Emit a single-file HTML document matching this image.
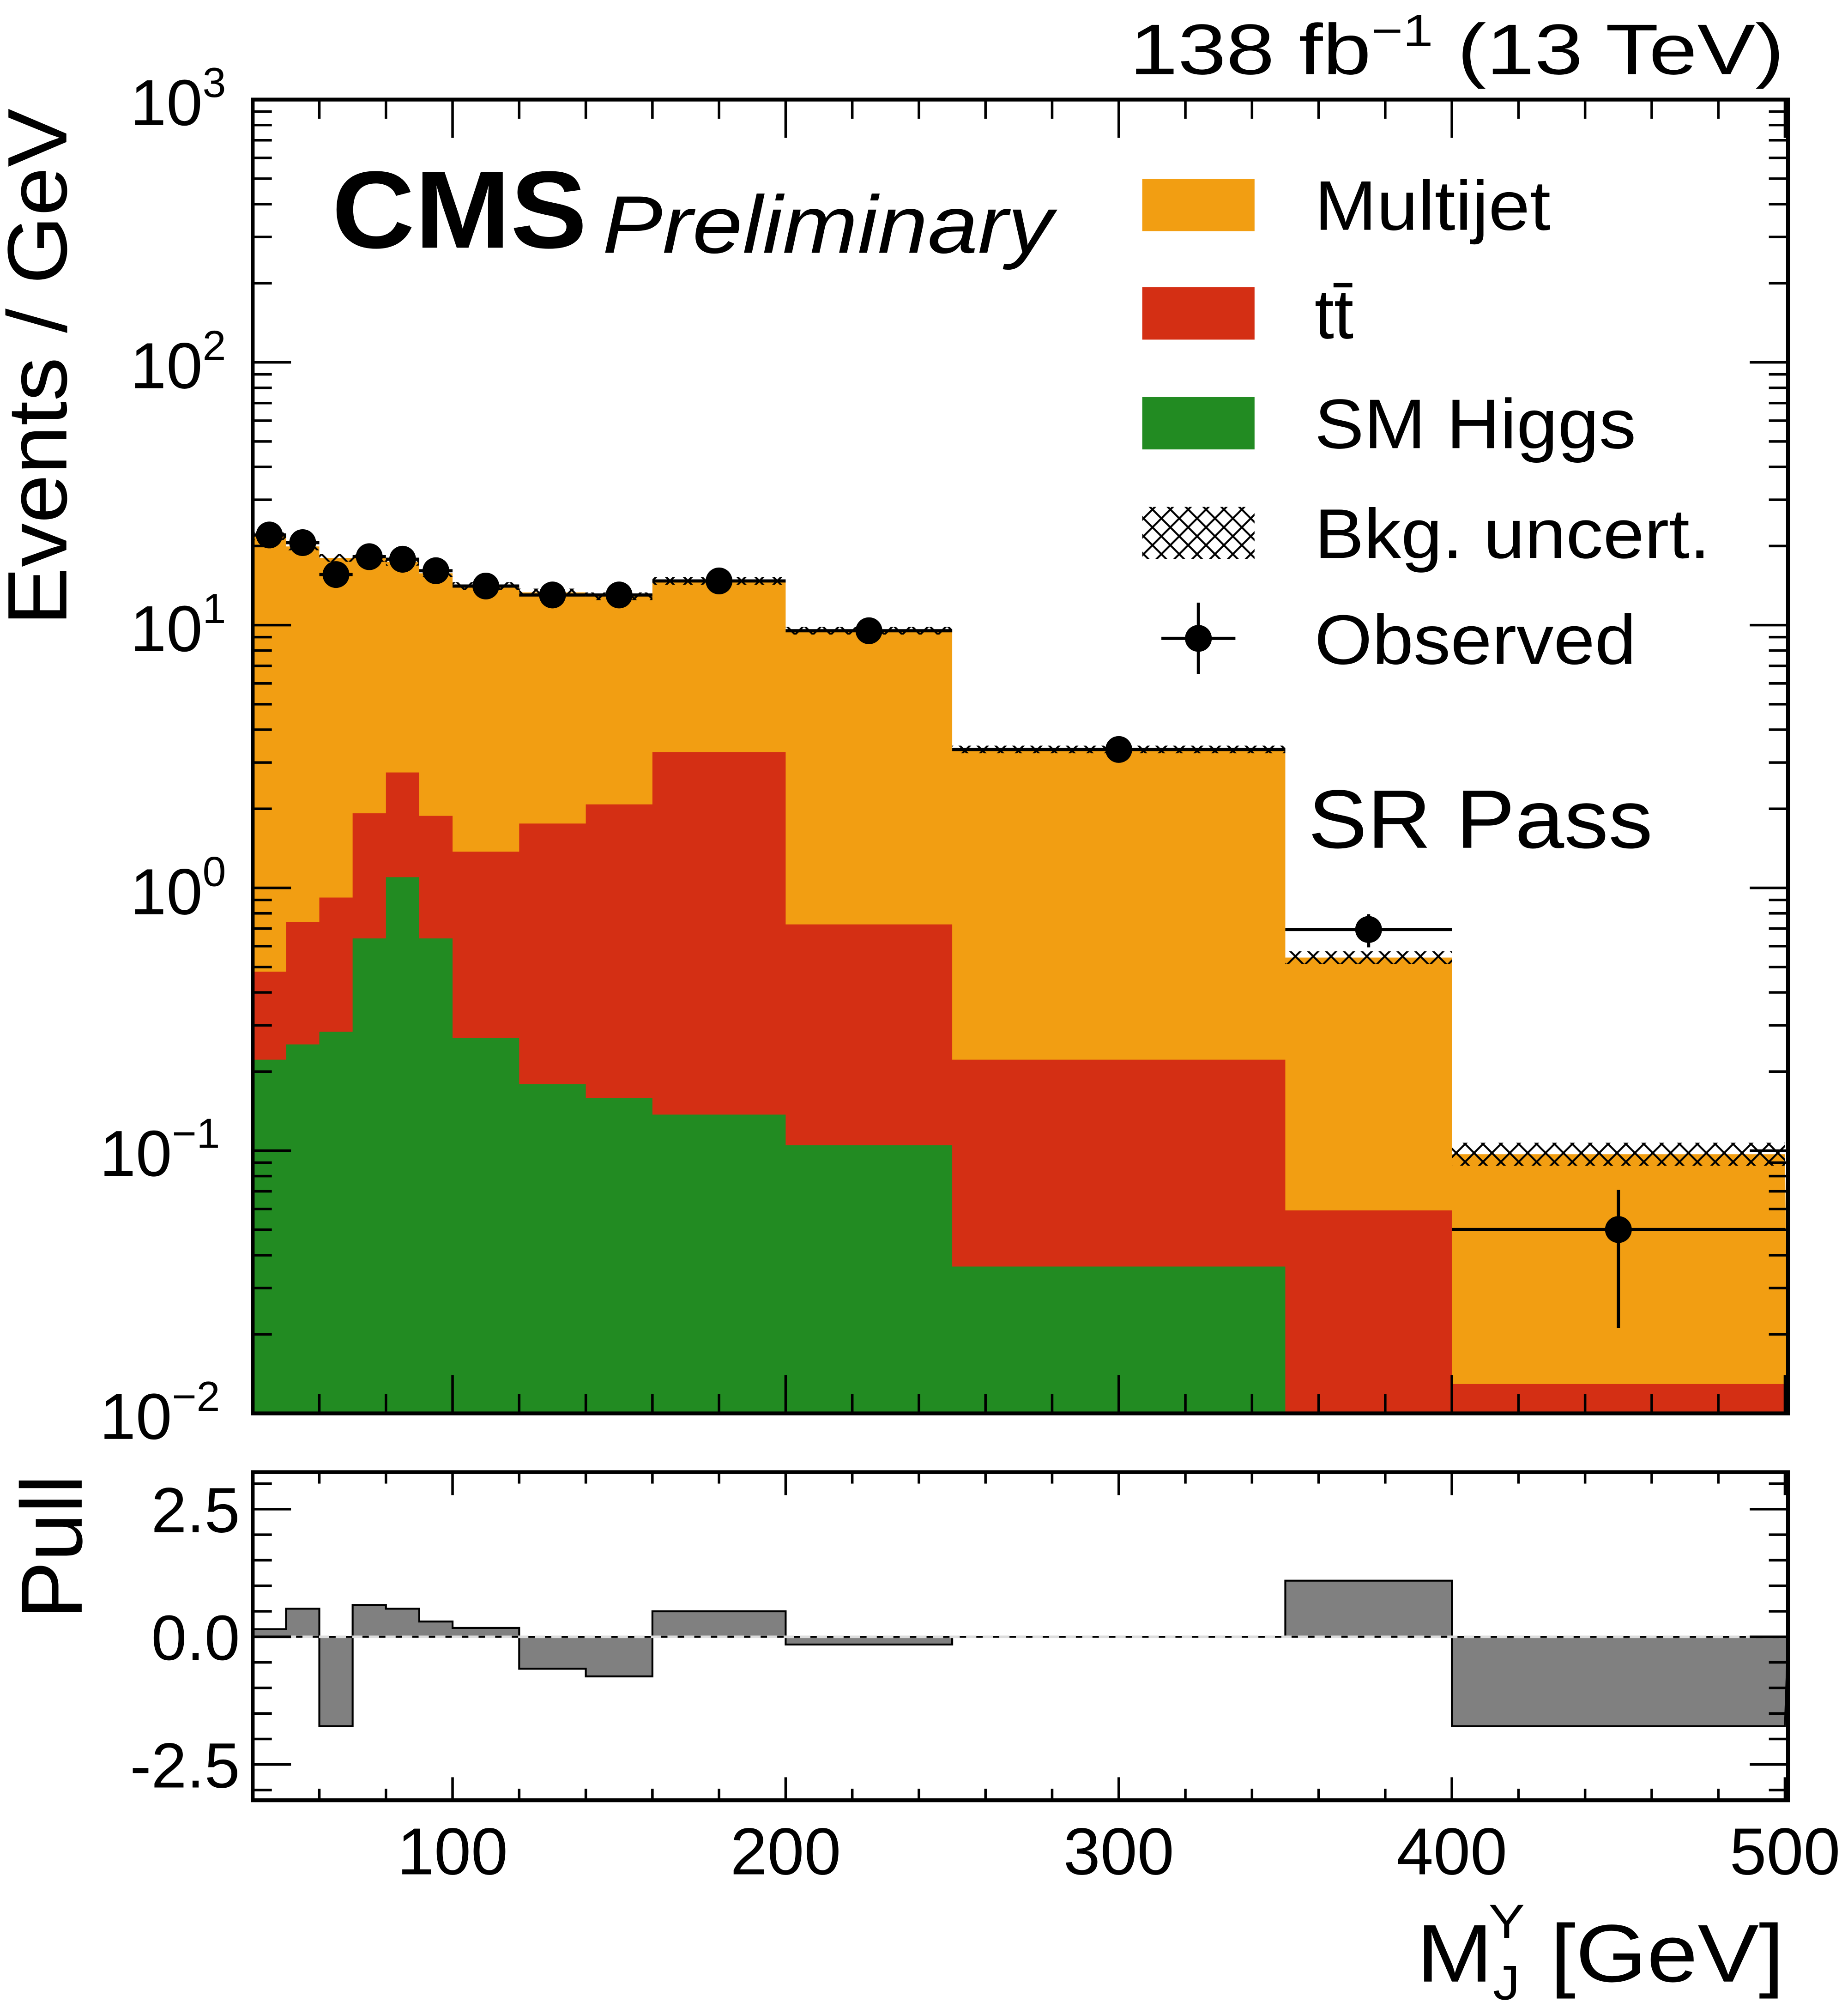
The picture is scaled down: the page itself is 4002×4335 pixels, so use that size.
<!DOCTYPE html>
<html><head><meta charset="utf-8"><style>html,body{margin:0;padding:0;background:#fff}svg{display:block}text{font-family:"Liberation Sans",sans-serif}</style></head>
<body>
<svg id="s" width="4002" height="4335" viewBox="0 0 1448 1568" preserveAspectRatio="none" xmlns="http://www.w3.org/2000/svg">
<defs>
<pattern id="h" width="14" height="14" patternUnits="userSpaceOnUse">
<path d="M0,0L14,14M14,0L0,14" stroke="#000" stroke-width="1.5"/>
</pattern>
</defs>
<g id="g"></g>
</svg>
<script>
const X=v=>198+(v-40)*2.61;
const Y=v=>1107-(Math.log10(v)+2)*205.8;
const P=v=>1282-v*40;
const edges=[40,50,60,70,80,90,100,120,140,160,200,250,350,400,500];
const orange=[420,428,437,437,440,449,459,464,467,455,494,587,750,904];
const red=[761,722,703,637,605,639,667,645,630,589,724,830,948,1084];
const green=[830,818,808,735,687,735,813,849,860,873,897,992,1107,1107];
const pts=[419,425,450,436,438,447,459,466,466,455,494,587,728,963];
const pull=[1276,1260,1352,1257,1260,1270,1275,1307,1313,1262,1288,1282,1238,1352];
let s='';
function step(arr,col){let d='M198,1107';for(let i=0;i<14;i++){d+=`L${X(edges[i])},${arr[i]}L${X(edges[i+1])},${arr[i]}`;}d+='L1401,1107Z';s+=`<path d="${d}" fill="${col}"/>`;}
step(orange,'#f29e12');step(red,'#d42f14');step(green,'#228b22');
for(let i=0;i<14;i++){const a=X(edges[i]),b=X(edges[i+1]);let h=i==13?9:(i==12?5:3);s+=`<rect x="${a}" y="${orange[i]-h}" width="${b-a}" height="${2*h}" fill="url(#h)"/>`;}
for(let i=0;i<14;i++){const a=X(edges[i]),b=X(edges[i+1]),c=(a+b)/2,y=pts[i];s+=`<line x1="${a}" y1="${y}" x2="${b}" y2="${y}" stroke="#000" stroke-width="2.5"/><circle cx="${c}" cy="${y}" r="10.5" fill="#000"/>`;}
s+=`<line x1="${(X(350)+X(400))/2}" y1="716" x2="${(X(350)+X(400))/2}" y2="742" stroke="#000" stroke-width="2.5"/>`;
s+=`<line x1="${(X(400)+X(500))/2}" y1="932" x2="${(X(400)+X(500))/2}" y2="1040" stroke="#000" stroke-width="2.5"/>`;
s+=`<rect x="198" y="78" width="1203" height="1029" fill="none" stroke="#000" stroke-width="3"/>`;
for(let e=-2;e<3;e++){for(let m=1;m<10;m++){const y=Y(m*Math.pow(10,e));const L=m==1?30:15;s+=`<line x1="198" y1="${y}" x2="${198+L}" y2="${y}" stroke="#000" stroke-width="2"/><line x1="1401" y1="${y}" x2="${1401-L}" y2="${y}" stroke="#000" stroke-width="2"/>`;}}
const lab=['10<tspan dy="-22" font-size="33">−2</tspan>','10<tspan dy="-22" font-size="33">−1</tspan>','10<tspan dy="-22" font-size="33">0</tspan>','10<tspan dy="-22" font-size="33">1</tspan>','10<tspan dy="-22" font-size="33">2</tspan>','10<tspan dy="-22" font-size="33">3</tspan>'];
const ly=[1107,901,696,490,284,78];
const lx=[78,78,102,102,102,102];
for(let i=0;i<6;i++)s+=`<text x="${lx[i]}" y="${ly[i]+20}" font-size="51">${lab[i]}</text>`;
for(let v=40;v<=500;v+=20){const x=X(v);const L=v%100==0?30:15;s+=`<line x1="${x}" y1="1107" x2="${x}" y2="${1107-L}" stroke="#000" stroke-width="2"/><line x1="${x}" y1="78" x2="${x}" y2="${78+L}" stroke="#000" stroke-width="2"/>`;
s+=`<line x1="${x}" y1="1410" x2="${x}" y2="${1410-L*0.6}" stroke="#000" stroke-width="2"/><line x1="${x}" y1="1153" x2="${x}" y2="${1153+L*0.6}" stroke="#000" stroke-width="2"/>`;}
let d='M198,1282';for(let i=0;i<14;i++){d+=`L${X(edges[i])},${pull[i]}L${X(edges[i+1])},${pull[i]}`;}d+='L1401,1282Z';
s+=`<path d="${d}" fill="#808080" stroke="#000" stroke-width="1.5"/>`;
s+=`<line x1="198" y1="1282" x2="1401" y2="1282" stroke="#ddd" stroke-width="2" stroke-dasharray="8,5"/>`;
s+=`<rect x="198" y="1153" width="1203" height="257" fill="none" stroke="#000" stroke-width="3"/>`;
for(let v=-3;v<=3.2;v+=0.5){const y=P(v);if(y<1153||y>1410)continue;const L=Math.abs(v%2.5)<0.01?30:15;s+=`<line x1="198" y1="${y}" x2="${198+L}" y2="${y}" stroke="#000" stroke-width="2"/><line x1="1401" y1="${y}" x2="${1401-L}" y2="${y}" stroke="#000" stroke-width="2"/>`;}
s+=`<text x="188" y="1200" font-size="50" text-anchor="end">2.5</text><text x="188" y="1300" font-size="50" text-anchor="end">0.0</text><text x="188" y="1400" font-size="50" text-anchor="end">-2.5</text>`;
[100,200,300,400,500].forEach(v=>{s+=`<text x="${X(v)}" y="1468" font-size="52" text-anchor="middle">${v}</text>`;});
const LA='lengthAdjust="spacingAndGlyphs"';
s+=`<text x="1110" y="1552" font-size="64" textLength="288" ${LA}>M<tspan dy="14" font-size="38">J</tspan><tspan dx="-22" dy="-48" font-size="38">Y</tspan><tspan dy="34"> [GeV]</tspan></text>`;
s+=`<text transform="translate(52,490) rotate(-90)" font-size="66" textLength="405" ${LA}>Events / GeV</text>`;
s+=`<text transform="translate(64,1268) rotate(-90)" font-size="68" textLength="113" ${LA}>Pull</text>`;
s+=`<text x="885" y="58" font-size="56" textLength="513" ${LA}>138 fb<tspan dy="-22" font-size="35">−1</tspan><tspan dy="22"> (13 TeV)</tspan></text>`;
s+=`<text x="260" y="194" font-size="86" font-weight="bold" textLength="200" ${LA}>CMS</text><text x="472" y="198" font-size="64" font-style="italic" textLength="353" ${LA}>Preliminary</text>`;
s+=`<rect x="895" y="140" width="88" height="41" fill="#f29e12"/><rect x="895" y="225" width="88" height="41" fill="#d42f14"/><rect x="895" y="311" width="88" height="41" fill="#228b22"/><rect x="895" y="397" width="88" height="41" fill="url(#h)"/>`;
s+=`<line x1="910" y1="500" x2="968" y2="500" stroke="#000" stroke-width="2.5"/><line x1="939" y1="472" x2="939" y2="528" stroke="#000" stroke-width="2.5"/><circle cx="939" cy="500" r="10.5"/>`;
s+=`<text x="1030" y="180" font-size="55" textLength="185" ${LA}>Multijet</text><text x="1030" y="265" font-size="55">tt̄</text><text x="1030" y="351" font-size="55" textLength="252" ${LA}>SM Higgs</text><text x="1030" y="437" font-size="55" textLength="310" ${LA}>Bkg. uncert.</text><text x="1030" y="520" font-size="55" textLength="252" ${LA}>Observed</text>`;
s+=`<text x="1025" y="664" font-size="65" textLength="270" ${LA}>SR Pass</text>`;
document.getElementById('g').innerHTML=s;
</script>
</body></html>
